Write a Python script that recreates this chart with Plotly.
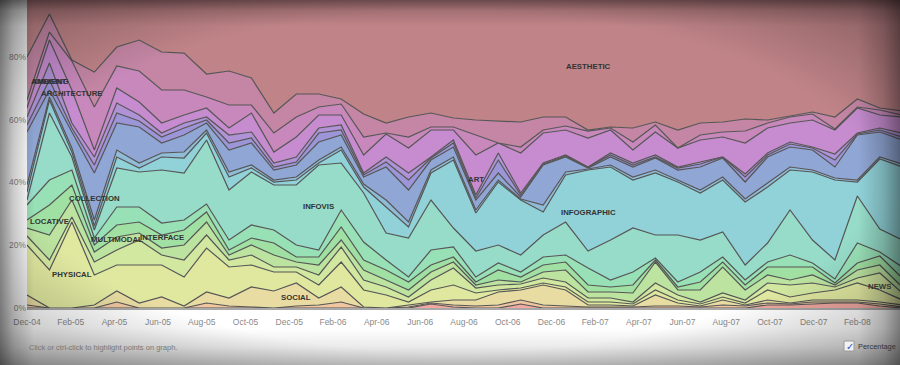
import base64
import plotly.graph_objects as go

# ---------------- data (relative shares per period; shown normalised to 100%) ----------------
periods = list(range(40))

tick_labels = ["Dec-04", "Feb-05", "Apr-05", "Jun-05", "Aug-05", "Oct-05", "Dec-05",
               "Feb-06", "Apr-06", "Jun-06", "Aug-06", "Oct-06", "Dec-06", "Feb-07",
               "Apr-07", "Jun-07", "Aug-07", "Oct-07", "Dec-07", "Feb-08"]

aesthetic = [63, 20, 66, 78, 53, 46, 58, 59, 80, 77, 84, 119, 100, 100, 105, 120, 129, 123, 119, 124,
             126, 127, 128, 123, 123, 136, 133, 134, 128, 136, 129, 128, 125, 126, 122, 118, 123, 105, 114, 117]
ambient = [43, 18, 1, 35, 19, 31, 38, 37, 23, 34, 27, 20, 23, 13, 5, 23, 10, 20, 14, 9,
           15, 22, 25, 13, 9, 1, 1, 14, 3, 18, 12, 10, 12, 3, 1, 2, 12, 8, 2, 4]
architecture = [8, 8, 29, 43, 22, 31, 33, 25, 11, 23, 8, 19, 20, 8, 11, 18, 1, 11, 3, 3,
                20, 0, 6, 3, 4, 7, 2, 8, 7, 0, 5, 5, 12, 5, 6, 6, 1, 1, 5, 2]
art = [9, 23, 33, 7, 15, 13, 10, 8, 9, 7, 19, 11, 20, 13, 10, 18, 23, 25, 27, 10,
       40, 10, 40, 30, 25, 29, 23, 13, 23, 19, 22, 20, 31, 25, 19, 27, 24, 25, 13, 16]
audio = [8, 17, 5, 8, 10, 6, 4, 5, 3, 8, 6, 4, 5, 5, 5, 2, 5, 7, 1, 3,
         3, 7, 2, 1, 1, 0, 2, 2, 2, 1, 2, 0, 3, 2, 2, 1, 6, 1, 2, 4]
bioart = [7, 10, 4, 8, 10, 6, 6, 7, 3, 7, 5, 3, 3, 9, 5, 2, 5, 10, 2, 4,
          2, 13, 2, 1, 1, 1, 2, 2, 1, 2, 3, 1, 5, 2, 3, 2, 7, 1, 2, 3]
collection = [53, 7, 16, 47, 27, 36, 10, 17, 7, 22, 22, 10, 12, 18, 12, 7, 33, 32, 10, 10,
              10, 7, 2, 40, 15, 1, 8, 10, 12, 10, 23, 19, 17, 26, 20, 20, 11, 45, 25, 24]
game = [7, 3, 4, 6, 7, 5, 4, 6, 3, 5, 3, 2, 3, 3, 3, 3, 7, 5, 3, 3,
        3, 2, 1, 7, 3, 1, 2, 3, 3, 2, 3, 3, 3, 4, 3, 2, 2, 2, 2, 3]
infographic = [8, 13, 5, 4, 11, 4, 13, 15, 7, 13, 4, 3, 5, 2, 13, 6, 26, 11, 27, 68,
               38, 63, 55, 23, 47, 81, 73, 48, 62, 53, 47, 52, 63, 56, 40, 68, 80, 14, 70, 73]
infovis = [5, 67, 13, 8, 39, 35, 53, 47, 64, 50, 53, 45, 60, 85, 47, 49, 27, 39, 50, 19,
           26, 18, 17, 22, 33, 17, 40, 44, 23, 47, 32, 25, 15, 19, 45, 23, 19, 47, 23, 27]
interface = [15, 25, 15, 7, 18, 15, 12, 10, 8, 10, 13, 13, 12, 7, 17, 18, 10, 5, 15, 10,
             5, 7, 5, 8, 7, 17, 7, 13, 2, 5, 10, 5, 5, 5, 12, 4, 4, 20, 4, 11]
locative = [8, 30, 15, 7, 12, 11, 13, 15, 10, 5, 7, 12, 5, 8, 13, 10, 10, 8, 7, 5,
            3, 10, 5, 7, 8, 7, 5, 8, 2, 3, 8, 5, 5, 8, 13, 8, 2, 7, 9, 9]
multimodal = [8, 25, 17, 10, 13, 7, 7, 15, 13, 5, 10, 12, 5, 10, 7, 10, 7, 7, 8, 6,
              3, 5, 2, 6, 12, 6, 6, 9, 21, 5, 12, 26, 10, 8, 5, 8, 2, 8, 8, 6]
news = [9, 10, 5, 13, 15, 25, 10, 17, 13, 7, 10, 5, 5, 10, 15, 10, 8, 5, 10, 17,
        5, 5, 4, 5, 5, 4, 4, 2, 7, 5, 2, 4, 3, 7, 12, 10, 3, 5, 17, 7]
physical = [50, 38, 86, 30, 26, 38, 32, 29, 44, 31, 22, 19, 11, 13, 25, 17, 13, 3, 12, 15,
            7, 2, 2, 2, 3, 3, 3, 2, 5, 3, 2, 3, 2, 10, 6, 7, 10, 17, 12, 5]
social = [10, 0, 0, 3, 11, 5, 11, 2, 11, 8, 20, 17, 23, 7, 15, 1, 0, 2, 1, 5,
          6, 13, 10, 20, 16, 2, 2, 1, 11, 3, 1, 5, 1, 3, 1, 2, 2, 2, 2, 2]
sound = [3, 0, 0, 0, 6, 0, 0, 0, 5, 2, 1, 0, 2, 3, 6, 0, 0, 1, 1, 2,
         2, 3, 4, 3, 2, 1, 1, 1, 2, 2, 1, 3, 2, 2, 1, 2, 1, 1, 2, 1]
video = [0, 0, 0, 0, 0, 0, 0, 0, 0, 0, 0, 0, 0, 0, 0, 0, 0, 0, 4, 1,
         0, 0, 4, 0, 0, 0, 0, 0, 0, 0, 0, 0, 0, 3, 3, 4, 5, 5, 2, 0]

# stacking order: bottom first
series = [
    ("VIDEO", video, "#f0a8a0"),
    ("SOUND", sound, "#f0c6a0"),
    ("SOCIAL", social, "#e8dca2"),
    ("PHYSICAL", physical, "#e0e8a0"),
    ("NEWS", news, "#d2e8a0"),
    ("MULTIMODAL", multimodal, "#bce4a0"),
    ("LOCATIVE", locative, "#a0e0a2"),
    ("INTERFACE", interface, "#98e0b6"),
    ("INFOVIS", infovis, "#96dcc8"),
    ("INFOGRAPHIC", infographic, "#90d2d8"),
    ("GAME", game, "#90bcd8"),
    ("COLLECTION", collection, "#90a6d4"),
    ("BIOART", bioart, "#9c96d8"),
    ("AUDIO", audio, "#b092d6"),
    ("ART", art, "#c68ccf"),
    ("ARCHITECTURE", architecture, "#c888bc"),
    ("AMBIENT", ambient, "#c486a4"),
    ("AESTHETIC", aesthetic, "#c08488"),
]

# in-chart labels: (text, period index, percent height, anchor)
labels = [
    ("AESTHETIC", 25, 76.9, "center"),
    ("AMBIENT", 0.08, 72.1, "left"),
    ("AMUSING", 0.12, 72.1, "left"),
    ("ARCHITECTURE", 2, 68.3, "center"),
    ("ART", 20, 40.8, "center"),
    ("INFOGRAPHIC", 25, 30.3, "center"),
    ("INFOVIS", 13, 32.2, "center"),
    ("COLLECTION", 3, 34.8, "center"),
    ("LOCATIVE", 1, 27.4, "center"),
    ("MULTIMODAL", 4, 21.7, "center"),
    ("INTERFACE", 6, 22.3, "center"),
    ("PHYSICAL", 2, 10.8, "center"),
    ("SOCIAL", 12, 3.2, "center"),
    ("NEWS", 38, 6.7, "center"),
]

months_per_step = 38 / 37
tick_vals = [2 * i / months_per_step for i in range(len(tick_labels))]

fig = go.Figure()
for name, vals, col in series:
    fig.add_trace(go.Scatter(
        x=periods, y=vals, name=name, mode="lines",
        stackgroup="one", groupnorm="percent",
        line=dict(color="#555555", width=1.2, shape="linear"),
        fillcolor=col, hoverinfo="skip"))

LABEL_FONT = "Liberation Sans, Arial"
for text, xk, yp, anc in labels:
    fig.add_annotation(x=xk, y=yp, xref="x", yref="y", text="<b>" + text + "</b>",
                       showarrow=False, xanchor=anc, yanchor="middle",
                       font=dict(family=LABEL_FONT, size=7.8, color="#333333"))

W, H = 900, 365
L, R, T, B = 27, 0, 0, 57
pw, ph = W - L - R, H - T - B


def px2paper(xp, yp):
    return (xp - L) / pw, (H - B - yp) / ph


# footer text and checkbox
fx, fy = px2paper(27, 347)
fig.add_annotation(x=fx, y=fy, xref="paper", yref="paper", text="Click or ctrl-click to highlight points on graph.",
                   showarrow=False, xanchor="left", yanchor="middle",
                   font=dict(family="Liberation Sans, Arial", size=7.5, color="#777777"))
bx0, by0 = px2paper(844, 351)
bx1, by1 = px2paper(854, 341)
fig.add_shape(type="rect", xref="paper", yref="paper", x0=bx0, y0=by0, x1=bx1, y1=by1,
              line=dict(color="#9a9a9a", width=1), fillcolor="#f2f2f2")
cx, cy = px2paper(849.5, 346)
fig.add_annotation(x=cx, y=cy, xref="paper", yref="paper", text="✓", showarrow=False,
                   xanchor="center", yanchor="middle",
                   font=dict(family="DejaVu Sans", size=10, color="#2f4fc8"))
tx, ty = px2paper(856, 346)
fig.add_annotation(x=tx, y=ty, xref="paper", yref="paper", text="Percentage", showarrow=False,
                   xanchor="left", yanchor="middle",
                   font=dict(family="Liberation Sans, Arial", size=7.4, color="#333333"))

# vignette overlay
svg = """<svg xmlns='http://www.w3.org/2000/svg' width='900' height='365' viewBox='0 0 900 365' preserveAspectRatio='none'>
<defs>
<linearGradient id='gl' x1='0' y1='0' x2='1' y2='0'>
<stop offset='0' stop-color='#000' stop-opacity='0.42'/><stop offset='0.4' stop-color='#000' stop-opacity='0.18'/><stop offset='1' stop-color='#000' stop-opacity='0'/></linearGradient>
<linearGradient id='gr' x1='1' y1='0' x2='0' y2='0'>
<stop offset='0' stop-color='#000' stop-opacity='0.38'/><stop offset='0.4' stop-color='#000' stop-opacity='0.16'/><stop offset='1' stop-color='#000' stop-opacity='0'/></linearGradient>
<linearGradient id='gt' x1='0' y1='0' x2='0' y2='1'>
<stop offset='0' stop-color='#000' stop-opacity='0.42'/><stop offset='0.4' stop-color='#000' stop-opacity='0.15'/><stop offset='1' stop-color='#000' stop-opacity='0'/></linearGradient>
<linearGradient id='gb' x1='0' y1='1' x2='0' y2='0'>
<stop offset='0' stop-color='#000' stop-opacity='0.25'/><stop offset='0.5' stop-color='#000' stop-opacity='0.08'/><stop offset='1' stop-color='#000' stop-opacity='0'/></linearGradient>
<radialGradient id='rad' cx='0.5' cy='0.5' r='0.75'>
<stop offset='0.62' stop-color='#000' stop-opacity='0'/><stop offset='1' stop-color='#000' stop-opacity='0.38'/></radialGradient>
</defs>
<rect x='0' y='0' width='34' height='365' fill='url(#gl)'/>
<rect x='858' y='0' width='42' height='365' fill='url(#gr)'/>
<rect x='0' y='0' width='900' height='26' fill='url(#gt)'/>
<rect x='0' y='328' width='900' height='37' fill='url(#gb)'/>
<rect x='0' y='0' width='900' height='365' fill='url(#rad)'/>
</svg>"""
src = "data:image/svg+xml;base64," + base64.b64encode(svg.encode("utf-8")).decode("ascii")
ix, iy = px2paper(0, 0)
fig.add_layout_image(source=src, xref="paper", yref="paper", x=ix, y=iy,
                     sizex=W / pw, sizey=H / ph, xanchor="left", yanchor="top",
                     sizing="stretch", layer="above", opacity=1)

fig.update_layout(
    width=W, height=H, margin=dict(l=L, r=R, t=T, b=B, pad=0),
    paper_bgcolor="white", plot_bgcolor="white", showlegend=False,
    xaxis=dict(range=[0, 38.9], tickvals=tick_vals, ticktext=tick_labels,
               showgrid=False, zeroline=False, showline=True, linecolor="#a8a8a8", linewidth=2,
               ticks="outside", ticklen=5, tickcolor="rgba(0,0,0,0)",
               tickfont=dict(family="Liberation Sans, Arial", size=8.5, color="#8a8a8a")),
    yaxis=dict(range=[0, 98.1], tickvals=[0, 20, 40, 60, 80], ticktext=["0%", "20%", "40%", "60%", "80%"],
               showgrid=False, zeroline=False, showline=False, ticks="",
               tickfont=dict(family="Liberation Sans, Arial", size=8.5, color="#8a8a8a")),
)

fig.write_html("out.html", config={"displayModeBar": False, "staticPlot": True},
               post_script="document.body.style.margin='0';document.body.style.overflow='hidden';")
